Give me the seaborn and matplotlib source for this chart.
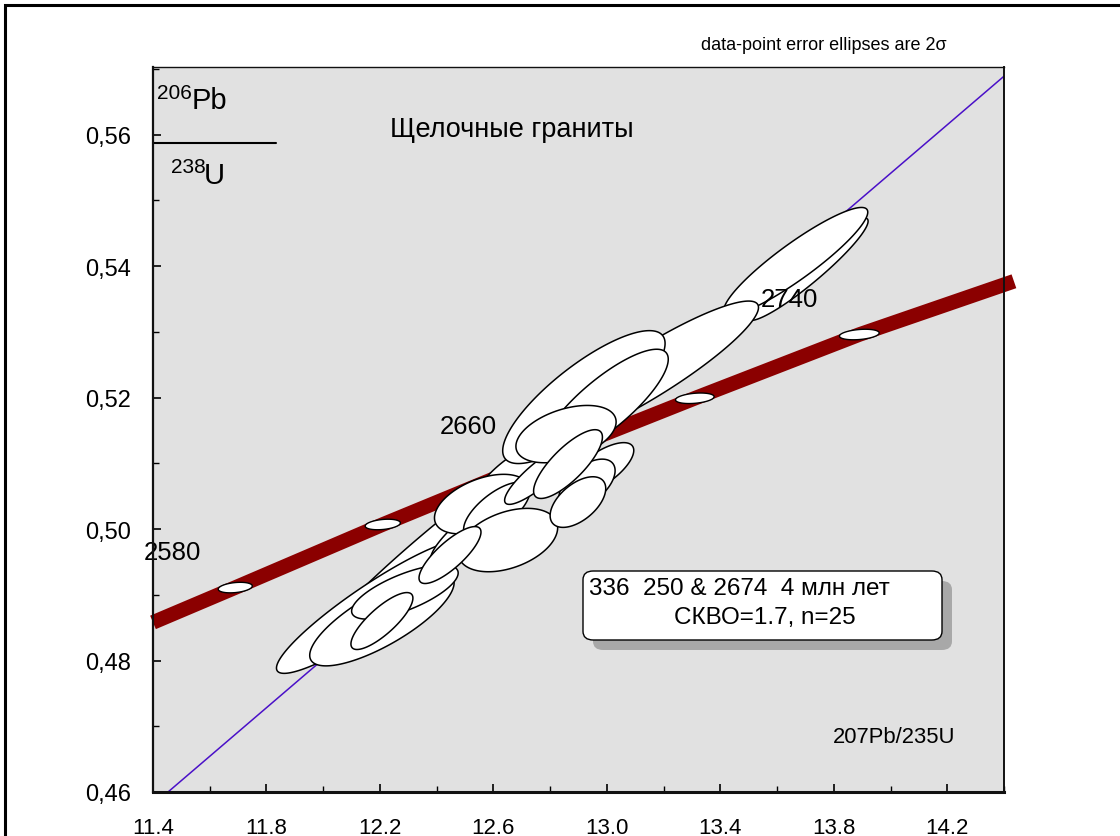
import numpy as np
import pandas as pd
import matplotlib
matplotlib.use("Agg")
import matplotlib.pyplot as plt
import seaborn as sns
from matplotlib.patches import FancyBboxPatch, Rectangle
from matplotlib.ticker import MultipleLocator, FuncFormatter

# ---------------- data ----------------
# concordia curve (band) points
band_x = [11.40, 11.69, 12.21, 12.75, 13.31, 13.89, 14.435]
band_y = [0.4858, 0.4911, 0.5007, 0.5103, 0.5199, 0.5296, 0.5377]

# concordia age markers
marker_age = [2580, 2620, 2660, 2700, 2740]
marker_x = [11.69, 12.21, 12.75, 13.31, 13.89]
marker_y = [0.4911, 0.5007, 0.5103, 0.5199, 0.5296]
marker_sx = [0.060, 0.062, 0.065, 0.068, 0.070]
marker_sy = [0.00080, 0.00080, 0.00080, 0.00080, 0.00080]
marker_rho = [0.30, 0.30, 0.30, 0.30, 0.30]

# labelled ages
age_label = ["2580", "2660", "2740"]
age_label_x = [11.467, 12.51, 13.645]
age_label_y = [0.4965, 0.5157, 0.5350]

# discordia line
disc_x = [11.453, 14.40]
disc_y = [0.4600, 0.5689]

# data-point error ellipses (2 sigma): centre, half-extents, correlation
ell_x = [12.341, 12.711, 12.174, 12.207, 12.288, 12.207, 12.517, 12.559, 12.612, 12.651,
         12.447, 13.708, 13.666, 13.155, 12.919, 12.993, 12.975, 12.930, 12.898,
         12.764, 12.856, 12.863]
ell_y = [0.49544, 0.50943, 0.48821, 0.48631, 0.49042, 0.48601, 0.50000, 0.50380, 0.50289,
         0.49833, 0.49605, 0.53954, 0.54076, 0.52403, 0.52008, 0.51901, 0.50913,
         0.50684, 0.50411, 0.50837, 0.51445, 0.50989]
ell_sx = [0.401, 0.1656, 0.3387, 0.2545, 0.1878, 0.1092, 0.1381, 0.1667, 0.117, 0.1755,
          0.1092, 0.2129, 0.2537, 0.3795, 0.2862, 0.2234, 0.1198, 0.099, 0.098,
          0.1244, 0.1766, 0.1213]
ell_sy = [0.01509, 0.00505, 0.01016, 0.00712, 0.00412, 0.00433, 0.00511, 0.00453, 0.00426,
          0.00482, 0.00433, 0.00780, 0.00817, 0.01066, 0.01011, 0.00835, 0.00402,
          0.00380, 0.00385, 0.00461, 0.00436, 0.00523]
ell_rho = [0.9745, 0.80, 0.920, 0.775, 0.704, 0.805, 0.872, 0.463, 0.684, 0.391,
           0.805, 0.936, 0.912, 0.908, 0.807, 0.817, 0.704, 0.54, 0.536,
           0.866, 0.425, 0.784]

x_ticks = [11.4, 11.8, 12.2, 12.6, 13.0, 13.4, 13.8, 14.2]
y_ticks = [0.46, 0.48, 0.50, 0.52, 0.54, 0.56]

title_text = "Щелочные граниты"
result_line1 = "336  250 & 2674  4 млн лет"
result_line2 = "СКВО=1.7, n=25"
note_text = "data-point error ellipses are 2σ"
xlabel_text = "207Pb/235U"

# ---------------- style ----------------
sns.set_theme(style="ticks")
plt.rcParams["font.family"] = ["Liberation Sans", "DejaVu Sans"]
plt.rcParams["text.color"] = "black"
plt.rcParams["xtick.color"] = "black"
plt.rcParams["ytick.color"] = "black"
plt.rcParams["xtick.labelcolor"] = "black"
plt.rcParams["ytick.labelcolor"] = "black"

W, H = 1120, 837
fig = plt.figure(figsize=(W / 100, H / 100), dpi=100, facecolor="white")
ax = fig.add_axes([153 / W, 1 - 793 / H, (1004 - 153) / W, (793 - 68) / H])
ax.set_facecolor("#e1e1e1")

# figure border
fig.patches.append(Rectangle((5 / W, -0.05), 1.2, 1 - 6 / H + 0.05, transform=fig.transFigure,
                             fill=False, edgecolor="black", linewidth=2.2, zorder=0))


def ellipse_pts(cx, cy, sx, sy, rho, n=240):
    t = np.linspace(0, 2 * np.pi, n)
    x = cx + sx * np.cos(t)
    y = cy + sy * (rho * np.cos(t) + np.sqrt(1 - rho ** 2) * np.sin(t))
    return x, y


# concordia band
band_df = pd.DataFrame({"x": band_x, "y": band_y})
sns.lineplot(data=band_df, x="x", y="y", ax=ax, color="#8b0000", linewidth=10.5,
             sort=False, estimator=None, solid_capstyle="butt", clip_on=False, zorder=2)

# discordia line
disc_df = pd.DataFrame({"x": disc_x, "y": disc_y})
sns.lineplot(data=disc_df, x="x", y="y", ax=ax, color="#4a10c8", linewidth=1.1,
             sort=False, estimator=None, zorder=1)

# age markers
for cx, cy, sx, sy, r in zip(marker_x, marker_y, marker_sx, marker_sy, marker_rho):
    ex, ey = ellipse_pts(cx, cy, sx, sy, r)
    ax.fill(ex, ey, facecolor="white", edgecolor="black", linewidth=1.0, zorder=3)

# data ellipses
for i, (cx, cy, sx, sy, r) in enumerate(zip(ell_x, ell_y, ell_sx, ell_sy, ell_rho)):
    ex, ey = ellipse_pts(cx, cy, sx, sy, r)
    ax.fill(ex, ey, facecolor="white", edgecolor="black", linewidth=1.1, zorder=4 + i * 0.01)

# age labels
for lab, lx, ly in zip(age_label, age_label_x, age_label_y):
    ax.text(lx, ly, lab, fontsize=18.5, ha="center", va="center", color="black", zorder=6)

ax.set_xlim(11.4, 14.4)
ax.set_ylim(0.46, 0.5703)
ax.set_xticks(x_ticks)
ax.set_yticks(y_ticks)
ax.xaxis.set_minor_locator(MultipleLocator(0.2))
ax.yaxis.set_minor_locator(MultipleLocator(0.01))
ax.xaxis.set_major_formatter(FuncFormatter(lambda v, p: f"{v:.1f}"))
ax.yaxis.set_major_formatter(FuncFormatter(lambda v, p: f"{v:.2f}".replace(".", ",")))
ax.tick_params(axis="both", which="major", direction="in", length=6, width=1.2,
               colors="black")
ax.tick_params(axis="x", which="major", pad=18, labelsize=16)
ax.tick_params(axis="y", which="major", pad=16, labelsize=17)
ax.tick_params(axis="both", which="minor", direction="in", length=4, width=1.0, colors="black")
ax.set_xlabel("")
ax.set_ylabel("")
for side, lw in {"left": 1.6, "bottom": 2.2, "top": 1.0, "right": 1.4}.items():
    ax.spines[side].set_visible(True)
    ax.spines[side].set_linewidth(lw)
    ax.spines[side].set_color("#111111")
    ax.spines[side].set_zorder(7)

# title and labels
ax.text(0.422, 0.914, title_text, transform=ax.transAxes, fontsize=19.5,
        ha="center", va="center", color="black")
ax.text(0.871, 0.077, xlabel_text, transform=ax.transAxes, fontsize=15.8,
        ha="center", va="center", color="black")
fig.text(824 / W, 1 - 45 / H, note_text, fontsize=13, ha="center", va="center", color="black")

# y-axis ratio label
fig.text(157 / W, 1 - 99 / H, "206", fontsize=15, ha="left", va="baseline", color="black")
fig.text(192 / W, 1 - 109 / H, "Pb", fontsize=21, ha="left", va="baseline", color="black")
fig.text(171 / W, 1 - 173 / H, "238", fontsize=15, ha="left", va="baseline", color="black")
fig.text(204 / W, 1 - 184 / H, "U", fontsize=21, ha="left", va="baseline", color="black")
ax.plot([0, (276 - 153) / 851], [0.895, 0.895], transform=ax.transAxes,
        color="black", linewidth=1.5, zorder=6, clip_on=False)

# result box with shadow
bx0, by0 = (583 - 153) / 851, (793 - 641) / 725
bw, bh = (942 - 583) / 851, (641 - 572) / 725
shadow = FancyBboxPatch((bx0 + 10 / 851, by0 - 10 / 725), bw, bh,
                        boxstyle="round,pad=0,rounding_size=0.012", transform=ax.transAxes,
                        facecolor="#a8a8a8", edgecolor="none", zorder=8)
box = FancyBboxPatch((bx0, by0), bw, bh,
                     boxstyle="round,pad=0,rounding_size=0.012", transform=ax.transAxes,
                     facecolor="white", edgecolor="black", linewidth=1.0, zorder=9)
ax.add_patch(shadow)
ax.add_patch(box)
ax.text((589 - 153) / 851, (793 - 589) / 725, result_line1, transform=ax.transAxes,
        fontsize=17.5, ha="left", va="center", zorder=10, color="black")
ax.text((765 - 153) / 851, (793 - 618) / 725, result_line2, transform=ax.transAxes,
        fontsize=17.5, ha="center", va="center", zorder=10, color="black")

fig.savefig("out.png", dpi=100, facecolor="white")
